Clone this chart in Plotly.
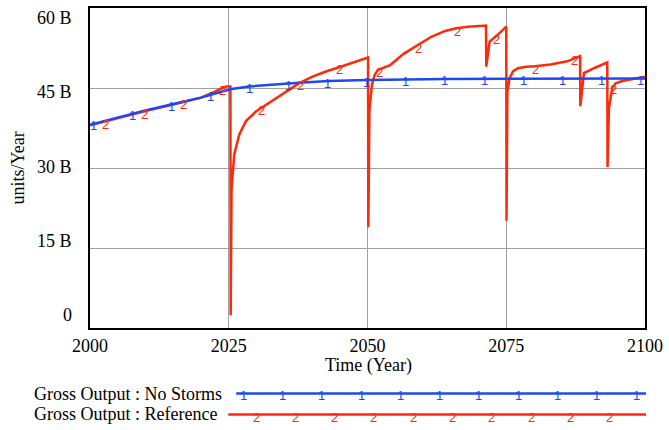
import numpy as np
import plotly.graph_objects as go

# ---------------- data ----------------
years_no_storms = [2000, 2005, 2010, 2015, 2020, 2024, 2025.5, 2028.7, 2032, 2037.7,
                   2043, 2050, 2064, 2080, 2100]
output_no_storms = [38.1, 39.5, 40.8, 42.0, 43.2, 44.4, 44.8, 45.3, 45.6, 46.0,
                    46.3, 46.5, 46.7, 46.7, 46.8]

years_reference = [2000, 2005, 2010, 2015, 2020, 2022.5, 2024.5, 2025.3, 2025.35,
                   2025.5, 2025.7, 2026.0, 2026.9, 2028.1, 2029.9, 2032.5, 2035.4,
                   2037.7, 2040.0, 2042.5, 2044.9, 2047.2, 2050.1, 2050.15, 2050.35,
                   2050.8, 2051.3, 2051.9, 2054.1, 2056.5, 2059.2, 2061.5, 2064.0,
                   2066.0, 2068.1, 2071.35, 2071.4, 2072.0, 2073.6, 2075.0, 2075.05,
                   2075.2, 2075.6, 2076.2, 2077.1, 2078.6, 2080.1, 2083.0, 2086.0,
                   2087.8, 2088.3, 2088.35, 2089.0, 2091.0, 2093.2, 2093.25, 2093.5,
                   2094.1, 2094.7, 2095.9, 2098.3, 2100]
output_reference = [38.0, 39.4, 40.7, 41.9, 43.2, 44.3, 45.3, 45.3, 2.4,
                    26.0, 29.5, 32.6, 36.3, 38.8, 40.6, 42.4, 44.3,
                    45.9, 47.1, 48.1, 48.9, 49.7, 50.7, 18.9, 41.0,
                    45.6, 47.5, 48.4, 49.3, 51.4, 53.1, 54.6, 55.7,
                    56.2, 56.5, 56.7, 49.0, 53.7, 55.1, 56.5, 20.1,
                    44.3, 46.8, 48.1, 48.7, 49.0, 49.1, 49.4, 50.0,
                    50.9, 51.0, 41.6, 47.8, 48.8, 49.8, 30.2, 41.2,
                    45.0, 45.9, 46.3, 46.7, 47.1]

x_ticks = [2000, 2025, 2050, 2075, 2100]
y_grid = [0, 15, 30, 45, 60]
y_tick_labels = ["0", "15 B", "30 B", "45 B", "60 B"]

series_names = ["Gross Output : No Storms", "Gross Output : Reference"]
marker_years_1 = [2000.6 + 7.04 * k for k in range(15)]
marker_years_2 = [2002.8 + 7.04 * k for k in range(14)]

# ---------------- styling ----------------
BLUE = "#1f48f5"
RED = "#ff2a0a"
SERIF = "Liberation Serif"
SANS = "Liberation Sans"
W, H = 669, 430
ML, MR, MT, MB = 90, 21, 6, 102
PW, PH = W - ML - MR, H - MT - MB

def px_x(px):
    return (px - ML) / PW

def px_y(py):
    return (H - MB - py) / PH

fig = go.Figure()
fig.add_trace(go.Scatter(x=years_reference, y=output_reference, mode="lines",
                         line=dict(color=RED, width=2.5), name=series_names[1],
                         hoverinfo="skip"))
fig.add_trace(go.Scatter(x=years_no_storms, y=output_no_storms, mode="lines",
                         line=dict(color=BLUE, width=2.5), name=series_names[0],
                         hoverinfo="skip"))

annotations = []
# series number markers on the curves
for yr in marker_years_1:
    v = float(np.interp(yr, years_no_storms, output_no_storms))
    annotations.append(dict(x=yr, y=v, xref="x", yref="y", text="1", showarrow=False,
                            xanchor="center", yanchor="middle", yshift=-2,
                            font=dict(family=SANS, size=13, color=BLUE)))
for yr in marker_years_2:
    v = float(np.interp(yr, years_reference, output_reference))
    annotations.append(dict(x=yr, y=v, xref="x", yref="y", text="2", showarrow=False,
                            xanchor="center", yanchor="middle", yshift=-3,
                            font=dict(family=SANS, size=13, color=RED)))

# y tick labels (spread evenly like the original)
label_top, label_bot = 16, 315
for i, t in enumerate(y_tick_labels):
    py = label_bot - i * (label_bot - label_top) / (len(y_tick_labels) - 1)
    annotations.append(dict(x=0, y=px_y(py), xref="paper", yref="paper", text=t,
                            showarrow=False, xanchor="right", yanchor="middle",
                            xshift=-16, font=dict(family=SERIF, size=18, color="black")))

# axis titles
annotations.append(dict(x=px_x(370), y=px_y(366), xref="paper", yref="paper",
                        text="Time (Year)", showarrow=False, xanchor="center",
                        yanchor="middle",
                        font=dict(family=SERIF, size=18, color="black")))
annotations.append(dict(x=px_x(18), y=px_y(167), xref="paper", yref="paper",
                        text="units/Year", showarrow=False, textangle=-90,
                        xanchor="center", yanchor="middle",
                        font=dict(family=SERIF, size=18, color="black")))

# legend
shapes = []
legend_rows = [(394, 237, BLUE, "1", 244, 11, -2), (415, 229, RED, "2", 257, 10, -3)]
for (py, x0, col, num, m0, nm, ys), name in zip(legend_rows, series_names):
    annotations.append(dict(x=px_x(32), y=px_y(py), xref="paper", yref="paper",
                            text=name, showarrow=False, xanchor="left", yanchor="middle",
                            font=dict(family=SERIF, size=18, color="black")))
    shapes.append(dict(type="line", xref="paper", yref="paper", x0=px_x(x0),
                       x1=px_x(649), y0=px_y(py), y1=px_y(py),
                       line=dict(color=col, width=2.5)))
    for k in range(nm):
        annotations.append(dict(x=px_x(m0 + 39.5 * k), y=px_y(py), xref="paper",
                                yref="paper", text=num, showarrow=False,
                                xanchor="center", yanchor="middle", yshift=ys,
                                font=dict(family=SANS, size=13, color=col)))

fig.update_layout(
    width=W, height=H,
    margin=dict(l=ML, r=MR, t=MT, b=MB, pad=0),
    paper_bgcolor="white", plot_bgcolor="white",
    showlegend=False,
    annotations=annotations, shapes=shapes,
    xaxis=dict(range=[2000, 2100], tickvals=x_ticks, ticktext=[str(v) for v in x_ticks],
               showgrid=True, gridcolor="#a0a0a0", gridwidth=1, zeroline=False,
               showline=True, linecolor="black", linewidth=2, mirror=True,
               ticks="", tickfont=dict(family=SERIF, size=18, color="black")),
    yaxis=dict(range=[0, 60], tickvals=y_grid, showticklabels=False,
               showgrid=True, gridcolor="#a0a0a0", gridwidth=1, zeroline=False,
               showline=True, linecolor="black", linewidth=2, mirror=True, ticks=""),
)

fig.write_html("out.html", config={"displayModeBar": False},
               post_script="document.body.style.margin='0';")
